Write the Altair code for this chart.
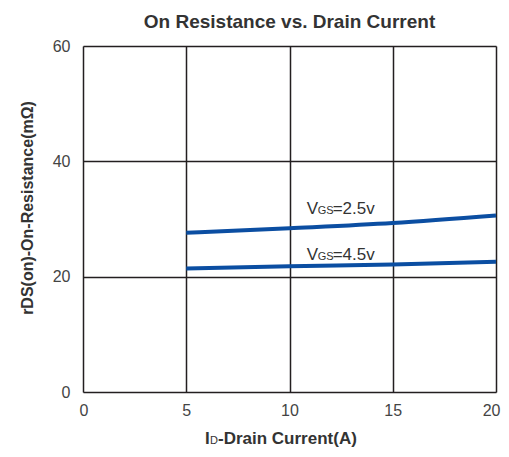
import altair as alt
import pandas as pd

# Data
current = [5, 10, 15, 20]
rds_25 = [27.6, 28.4, 29.3, 30.6]
rds_45 = [21.4, 21.8, 22.1, 22.6]
series_names = ["VGS=2.5v", "VGS=4.5v"]

label_sub = ["GS", "GS"]
label_rest = ["=2.5v", "=4.5v"]
label_x = [10.83, 10.83]
label_y = [30.9, 22.9]

x_ticks = [0, 5, 10, 15, 20]
y_ticks = [0, 20, 40, 60]

rows = []
for name, vals in zip(series_names, [rds_25, rds_45]):
    for c, v in zip(current, vals):
        rows.append({"series": name, "Id": c, "rds": v})
df = pd.DataFrame(rows)

lab = pd.DataFrame({"x": label_x, "y": label_y, "sub": label_sub, "rest": label_rest})

FONT = "Liberation Sans"
LINE_COLOR = "#0b4ea2"
TEXT_COLOR = "#333333"

xs = alt.Scale(domain=[0, 20], nice=False)
ys = alt.Scale(domain=[0, 60], nice=False)

base_x = alt.X("Id:Q", scale=xs,
               axis=alt.Axis(values=x_ticks, title=None, grid=True, ticks=False,
                             domain=False, labelFontSize=16, labelPadding=10,
                             labelFlush=True, labelFlushOffset=4,
                             labelColor="#444444", labelFont=FONT,
                             gridColor="#231f20", gridWidth=1.5))
base_y = alt.Y("rds:Q", scale=ys,
               axis=alt.Axis(values=y_ticks, title=None, grid=True, ticks=False,
                             domain=False, labelFontSize=16, labelPadding=13,
                             labelFlush=False,
                             labelColor="#444444", labelFont=FONT,
                             gridColor="#231f20", gridWidth=1.5))

lines = alt.Chart(df).mark_line(color=LINE_COLOR, strokeWidth=4, interpolate="monotone").encode(
    x=base_x, y=base_y, detail="series:N"
)

lx = alt.X("x:Q", scale=xs)
ly = alt.Y("y:Q", scale=ys)

t_v = alt.Chart(lab).mark_text(align="left", baseline="alphabetic", fontSize=17,
                               font=FONT, color=TEXT_COLOR).encode(
    x=lx, y=ly, text=alt.value("V"))
t_sub = alt.Chart(lab).mark_text(align="left", baseline="alphabetic", fontSize=11,
                                 font=FONT, color=TEXT_COLOR, dx=11).encode(
    x=lx, y=ly, text="sub:N")
t_rest = alt.Chart(lab).mark_text(align="left", baseline="alphabetic", fontSize=17,
                                  font=FONT, color=TEXT_COLOR, dx=26).encode(
    x=lx, y=ly, text="rest:N")

# axis titles (with subscript) as text annotations
xt_i = alt.Chart(lab.head(1)).mark_text(align="left", baseline="alphabetic", fontSize=17,
                                        fontWeight="bold", font=FONT, color=TEXT_COLOR).encode(
    x=alt.value(122), y=alt.value(398), text=alt.value("I"))
xt_d = alt.Chart(lab.head(1)).mark_text(align="left", baseline="alphabetic", fontSize=11,
                                        font=FONT, color=TEXT_COLOR).encode(
    x=alt.value(127), y=alt.value(398), text=alt.value("D"))
xt_rest = alt.Chart(lab.head(1)).mark_text(align="left", baseline="alphabetic", fontSize=17,
                                           fontWeight="bold", font=FONT, color=TEXT_COLOR).encode(
    x=alt.value(135), y=alt.value(398), text=alt.value("-Drain Current(A)"))
yt = alt.Chart(lab.head(1)).mark_text(align="center", baseline="middle", fontSize=16,
                                      fontWeight="bold", font=FONT, color=TEXT_COLOR,
                                      angle=270).encode(
    x=alt.value(-55), y=alt.value(162), text=alt.value("rDS(on)-On-Resistance(mΩ)"))

chart = alt.layer(lines, t_v, t_sub, t_rest, xt_i, xt_d, xt_rest, yt).properties(
    width=413, height=346,
    title=alt.TitleParams("On Resistance vs. Drain Current", fontSize=19, fontWeight="bold",
                          font=FONT, color=TEXT_COLOR, anchor="middle", offset=6),
    autosize=alt.AutoSizeParams(type="none"),
    padding={"left": 75, "top": 38, "right": 5, "bottom": 57},
).configure_view(stroke="#231f20", strokeWidth=2).configure(background="white")

chart.save("out.html", embed_options={"renderer": "svg", "actions": False})
